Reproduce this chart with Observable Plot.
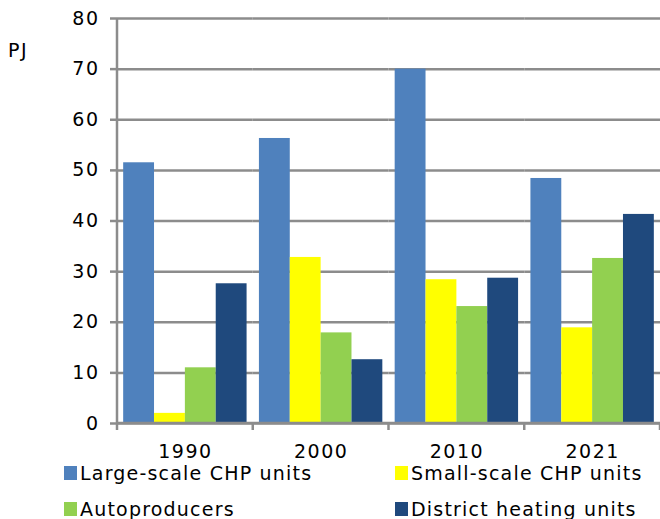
<!DOCTYPE html>
<html>
<head>
<meta charset="utf-8">
<script src="https://cdn.jsdelivr.net/npm/d3@7"></script>
<script src="https://cdn.jsdelivr.net/npm/@observablehq/plot@0.6"></script>
<style>
  html, body { margin: 0; padding: 0; background: #fff; }
  #wrap { position: relative; width: 660px; height: 519px; overflow: hidden; font-family: "DejaVu Sans", Verdana, sans-serif; }
  #unit { position: absolute; left: 8px; top: 39px; font-size: 19px; letter-spacing: 1.5px; color: #000; line-height: 22px; }
  #legend { position: absolute; left: 64px; top: 459px; width: 600px; display: grid; grid-template-columns: 331px 260px; row-gap: 8px; font-size: 19px; letter-spacing: 1.2px; color: #000; }
  .item { display: flex; align-items: center; height: 28px; white-space: nowrap; }
  .sw { width: 13px; height: 14px; margin-right: 3px; flex: none; }
</style>
</head>
<body>
<div id="wrap">
  <div id="chart"></div>
  <div id="unit">PJ</div>
  <div id="legend"></div>
</div>
<script>
const years = ["1990", "2000", "2010", "2021"];
const seriesNames = ["Large-scale CHP units", "Small-scale CHP units", "Autoproducers", "District heating units"];
const largeScale = [51.5, 56.3, 70.0, 48.4];
const smallScale = [2.0, 32.8, 28.4, 18.9];
const autoproducers = [11.0, 17.9, 23.1, 32.6];
const districtHeating = [27.6, 12.6, 28.7, 41.3];
const yTicks = [0, 10, 20, 30, 40, 50, 60, 70, 80];
const colors = ["#4F81BD", "#FFFF00", "#92D050", "#1F497D"];

const seriesValues = [largeScale, smallScale, autoproducers, districtHeating];
const rows = [];
years.forEach((yr, i) => {
  seriesNames.forEach((s, j) => rows.push({year: yr, series: s, value: seriesValues[j][i]}));
});

const plot = Plot.plot({
  width: 660,
  height: 460,
  marginLeft: 117,
  marginRight: 0,
  marginTop: 18,
  marginBottom: 37,
  style: {fontFamily: "DejaVu Sans, Verdana, sans-serif", fontSize: "19px", letterSpacing: "1.5px", color: "#000", background: "#fff", overflow: "visible"},
  facet: {data: rows, x: "year"},
  fx: {domain: years, padding: 0, round: false, axis: "bottom", label: null, tickSize: 0, tickPadding: 21},
  x: {domain: seriesNames, axis: null, paddingInner: 0, paddingOuter: 0.2, round: false},
  y: {domain: [0, 80], ticks: yTicks, label: null, tickSize: 7, tickPadding: 11},
  color: {domain: seriesNames, range: colors},
  marks: [
    Plot.ruleY(yTicks, {stroke: "#8c8c8c", strokeWidth: 2.5}),
    Plot.barY(rows, {x: "series", y: "value", fill: "series"})
  ]
});
document.getElementById("chart").appendChild(plot);

// axis lines and group-boundary ticks, positioned from Plot's own scales
const fx = plot.scale("fx");
const y = plot.scale("y");
const svg = d3.select(plot);
const x0 = fx.apply(years[0]);
const yBase = y.apply(0);
const yTop = y.apply(80);
const bounds = years.map(yr => fx.apply(yr)).concat([fx.apply(years[years.length - 1]) + fx.bandwidth]);
const g = svg.append("g").attr("stroke", "#8c8c8c").attr("stroke-width", 2.5);
g.append("line").attr("x1", x0).attr("x2", x0).attr("y1", yTop).attr("y2", yBase);
g.append("line").attr("x1", x0).attr("x2", bounds[bounds.length - 1]).attr("y1", yBase).attr("y2", yBase);
bounds.forEach(b => g.append("line").attr("x1", b).attr("x2", b).attr("y1", yBase).attr("y2", yBase + 7));
svg.selectAll("[aria-label='y-axis'] line, [aria-label='y-axis tick'] path, [aria-label='y-axis'] path").attr("stroke", "#8c8c8c").attr("stroke-width", 2.5);

const legend = document.getElementById("legend");
seriesNames.forEach((s, i) => {
  const it = document.createElement("div");
  it.className = "item";
  const sw = document.createElement("span");
  sw.className = "sw";
  sw.style.background = colors[i];
  const t = document.createElement("span");
  t.textContent = s;
  it.appendChild(sw); it.appendChild(t);
  legend.appendChild(it);
});
</script>
</body>
</html>
